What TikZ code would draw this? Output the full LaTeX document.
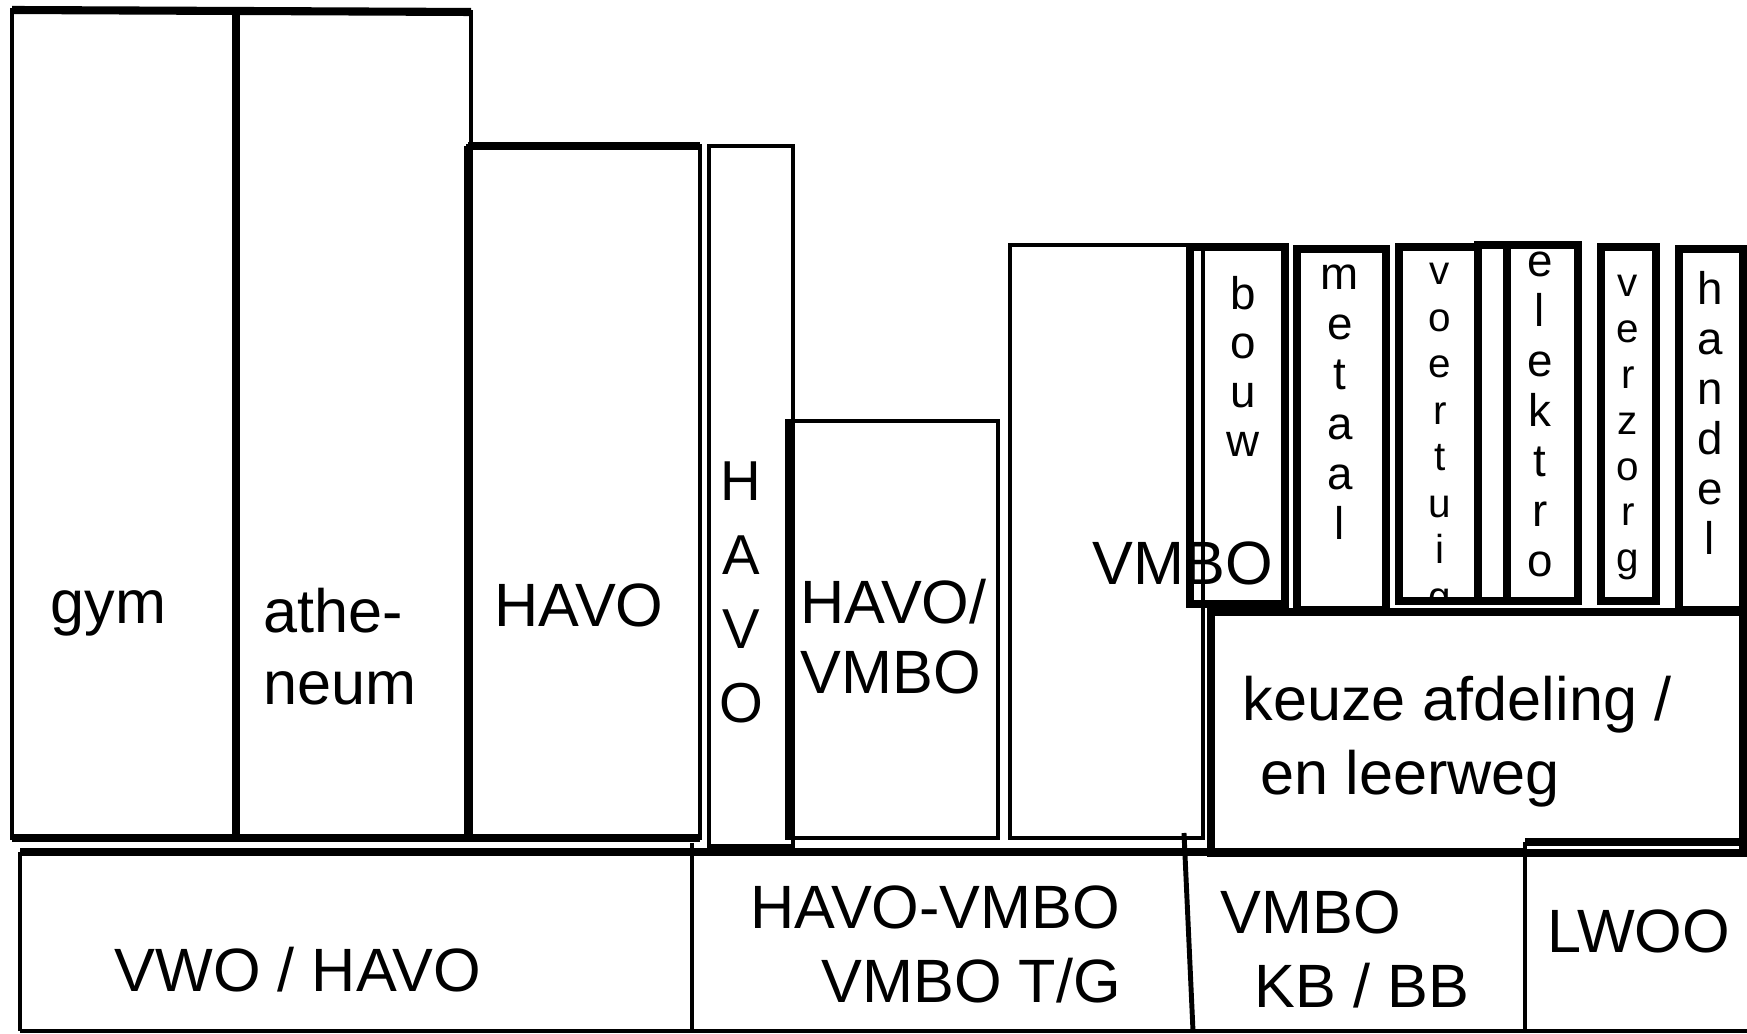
\documentclass[tikz,border=0pt]{standalone}
\usepackage{fontspec}
\setmainfont{Liberation Sans}

\tikzset{
    vak/.style={line width=1.4pt},
    dikvak/.style={line width=2.3pt},
    tekst/.style={inner sep=0pt, anchor=base west, font=\fontsize{17.4}{20}\selectfont},
    letter/.style={inner sep=0pt, anchor=base, font=\fontsize{13}{15}\selectfont},
    kleinletter/.style={letter, font=\fontsize{11.5}{13}\selectfont},
    grootletter/.style={letter, font=\fontsize{16}{18}\selectfont}
}

\begin{document}
\begin{tikzpicture}[x=0.01cm,y=-0.01cm]
    %\draw [help lines] (0,0) grid (1747,1034);
    \useasboundingbox (0,0) rectangle (1747,1034);

    %bovenbouw
    \draw [vak] (12,10) rectangle (234,838);
    \draw [vak] (238,12) rectangle (471,838);
    \draw [vak] (468,146) rectangle (700,838);
    \draw [vak] (709,146) rectangle (793,846);
    \draw [vak] (787,421) rectangle (998,838);
    \draw [vak] (1010,245) rectangle (1203,838);
    \draw [dikvak] (12,10) to (471,12);
    \draw [dikvak] (12,838) to (700,838);
    \draw [dikvak] (236,10) to (236,838);
    \draw [dikvak] (468,146) to (468,838);
    \draw [dikvak] (468,146) to (700,146);
    \draw [dikvak] (789,421) to (789,838);

    \node [tekst] (gym) at (50,624) {gym};
    \node [tekst] (athe) at (263,633) {athe-};
    \node [tekst] (neum) at (263,705) {neum};
    \node [tekst] (havo) at (494,627) {HAVO};
    \foreach \c [count=\i from 0] in {H,A,V,O}
        \node [grootletter] (vhavo\i) at (741,{501+74*\i}) {\c};
    \node [tekst] (havovmbo) at (800,624) {HAVO/};
    \node [tekst] (havovmbob) at (800,694) {VMBO};
    \node [tekst] (vmbo) at (1092,585) {VMBO};

    %afdelingen
    \draw [dikvak] (1190,247) rectangle (1285,604);
    \draw [dikvak] (1297,249) rectangle (1386,610);
    \draw [dikvak] (1399,247) rectangle (1478,601);
    \draw [dikvak] (1478,245) rectangle (1507,601);
    \draw [dikvak] (1507,245) rectangle (1578,601);
    \draw [dikvak] (1601,247) rectangle (1656,601);
    \draw [dikvak] (1679,249) rectangle (1743,610);

    \foreach \c [count=\i from 0] in {b,o,u,w}
        \node [letter] (bouw\i) at (1243,{310+49*\i}) {\c};
    \foreach \c [count=\i from 0] in {m,e,t,a,a,l}
        \node [letter] (metaal\i) at (1340,{290+50*\i}) {\c};
    \begin{scope}
        \clip (1399,247) rectangle (1478,598);
        \foreach \c [count=\i from 0] in {v,o,e,r,t,u,i,g}
            \node [kleinletter] (voertuig\i) at (1440,{285+46.5*\i}) {\c};
    \end{scope}
    \foreach \c [count=\i from 0] in {e,l,e,k,t,r,o}
        \node [letter] (elektro\i) at (1540,{277+50*\i}) {\c};
    \foreach \c [count=\i from 0] in {v,e,r,z,o,r,g}
        \node [kleinletter] (verzorg\i) at (1628,{297+45.8*\i}) {\c};
    \foreach \c [count=\i from 0] in {h,a,n,d,e,l}
        \node [letter] (handel\i) at (1710,{305+50*\i}) {\c};

    %keuze
    \draw [dikvak] (1211,612) rectangle (1743,853);
    \node [tekst] (keuze) at (1242,721) {keuze afdeling /};
    \node [tekst] (leerweg) at (1260,795) {en leerweg};

    %onderbouw
    \draw [dikvak] (20,852) to (1525,852);
    \draw [dikvak] (1525,842) to (1747,842);
    \draw [vak] (20,852) to (20,1031);
    \draw [vak] (692,843) to (692,1031);
    \draw [vak] (1184,833) to (1193,1031);
    \draw [vak] (1525,842) to (1525,1031);
    \draw [vak] (20,1031) to (1747,1031);

    \node [tekst] (vwohavo) at (114,992) {VWO / HAVO};
    \node [tekst] (havovmboc) at (750,929) {HAVO-VMBO};
    \node [tekst] (vmbotg) at (821,1003) {VMBO T/G};
    \node [tekst] (vmbokb) at (1220,934) {VMBO};
    \node [tekst] (kbbb) at (1254,1008) {KB / BB};
    \node [tekst] (lwoo) at (1547,953) {LWOO};

\end{tikzpicture}
\end{document}
